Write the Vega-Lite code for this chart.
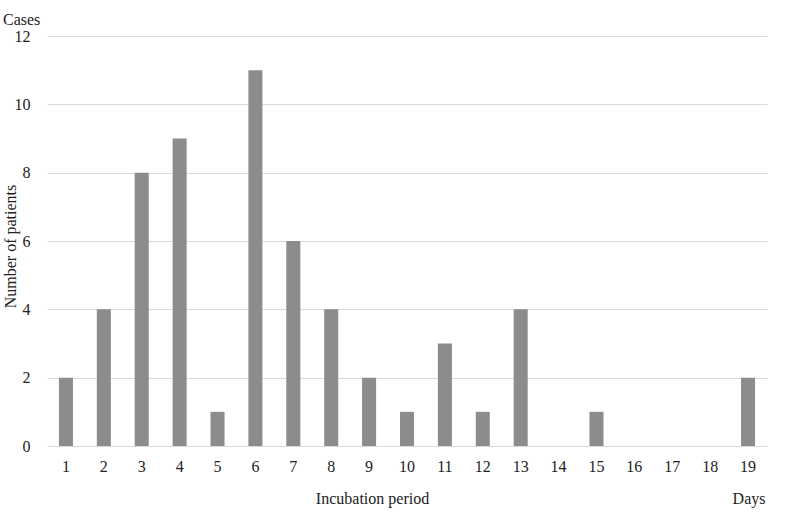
{
  "$schema": "https://vega.github.io/schema/vega-lite/v6.json",
  "width": 720,
  "height": 410,
  "autosize": {"type": "none"},
  "padding": {"left": 47, "top": 36, "right": 21, "bottom": 70},
  "background": "white",
  "title": {"text": "Cases", "anchor": "start", "frame": "group", "dx": -44, "font": "Liberation Serif", "fontSize": 16, "fontWeight": "normal", "color": "#222", "offset": 0},
  "config": {
    "view": {"stroke": null},
    "font": "Liberation Serif",
    "axis": {"labelFont": "Liberation Serif", "titleFont": "Liberation Serif", "labelFontSize": 16, "titleFontSize": 16, "labelColor": "#222", "titleColor": "#222", "titleFontWeight": "normal"}
  },
  "data": {"values": [
    {"day": "1", "n": 2}, {"day": "2", "n": 4}, {"day": "3", "n": 8}, {"day": "4", "n": 9},
    {"day": "5", "n": 1}, {"day": "6", "n": 11}, {"day": "7", "n": 6}, {"day": "8", "n": 4},
    {"day": "9", "n": 2}, {"day": "10", "n": 1}, {"day": "11", "n": 3}, {"day": "12", "n": 1},
    {"day": "13", "n": 4}, {"day": "14", "n": 0}, {"day": "15", "n": 1}, {"day": "16", "n": 0},
    {"day": "17", "n": 0}, {"day": "18", "n": 0}, {"day": "19", "n": 2}
  ]},
  "layer": [
    {
      "mark": {"type": "bar", "color": "#8c8c8c"},
      "encoding": {
        "x": {"field": "day", "type": "ordinal", "sort": null,
          "scale": {"paddingInner": 0.63, "paddingOuter": 0.315},
          "axis": {"title": "Incubation period", "labelAngle": 0, "labelPadding": 12, "ticks": false, "domain": false, "grid": false, "orient": "bottom", "titleX": 325, "titleY": 57, "titleAlign": "center", "titleBaseline": "alphabetic"}},
        "y": {"field": "n", "type": "quantitative",
          "scale": {"domain": [0, 12]},
          "axis": {"title": "Number of patients", "values": [0, 2, 4, 6, 8, 10, 12], "ticks": false, "domain": false, "gridColor": "#d9d9d9", "labelPadding": 17, "titleX": -37, "titleY": 210, "titleAngle": -90, "titleAlign": "center", "titleBaseline": "middle"}}
      }
    },
    {
      "mark": {"type": "bar", "opacity": 0},
      "encoding": {
        "x": {"field": "day", "type": "ordinal", "sort": null,
          "axis": {"title": "Days", "labels": false, "ticks": false, "domain": false, "grid": false, "orient": "bottom", "titleX": 718, "titleY": 57, "titleAlign": "right", "titleBaseline": "alphabetic"}},
        "y": {"field": "n", "type": "quantitative"}
      }
    }
  ],
  "resolve": {"axis": {"x": "independent"}}
}
